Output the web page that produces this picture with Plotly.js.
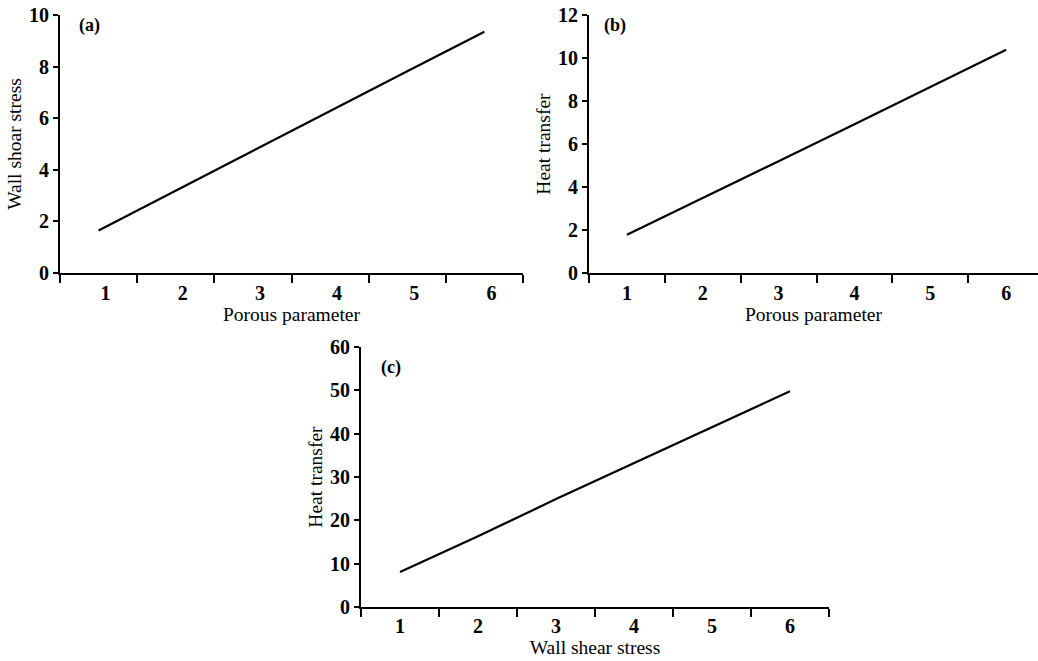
<!DOCTYPE html>
<html>
<head>
<meta charset="utf-8">
<script src="https://cdn.plot.ly/plotly-3.0.1.min.js"></script>
<style>html,body{margin:0;padding:0;background:#fff;}#chart{width:1038px;height:661px;}</style>
</head>
<body>
<div id="chart"></div>
<script>
// Data
const porousParameter = [1, 2, 3, 4, 5, 6];
const wallShearA = [1.65, 3.2, 4.75, 6.27, 7.82, 9.35];
const heatTransferB = [1.78, 3.48, 5.2, 6.92, 8.64, 10.38];
const wallShearC = [1, 2, 3, 4, 5, 6];
const heatTransferC = [8.1, 16.3, 24.9, 33.2, 41.5, 49.8];
const xTickLabels = ['1', '2', '3', '4', '5', '6'];

const W = 1038, H = 661;
const FONT = 'Liberation Serif, Times New Roman, serif';
const px = v => v / W;
const py = v => 1 - v / H;

const lineStyle = {color: '#000', width: 2.2};
const traces = [
  {x: porousParameter, y: wallShearA, type: 'scatter', mode: 'lines', line: lineStyle, xaxis: 'x', yaxis: 'y', showlegend: false, hoverinfo: 'x+y'},
  {x: porousParameter, y: heatTransferB, type: 'scatter', mode: 'lines', line: lineStyle, xaxis: 'x2', yaxis: 'y2', showlegend: false, hoverinfo: 'x+y'},
  {x: wallShearC, y: heatTransferC, type: 'scatter', mode: 'lines', line: lineStyle, xaxis: 'x3', yaxis: 'y3', showlegend: false, hoverinfo: 'x+y'}
];

function xAxis(domain, range, title, anchor, shift, standoff, labelStandoff) {
  return {
    domain: domain, range: range, anchor: anchor,
    showgrid: false, zeroline: false, showline: true, linecolor: '#000', linewidth: 2,
    tickmode: 'array', tickvals: porousParameter, ticktext: xTickLabels,
    ticks: '', ticklabelstandoff: labelStandoff, ticklabelshift: shift,
    tickfont: {family: FONT, size: 20, color: '#000', weight: 'bold'},
    minor: {tickmode: 'linear', tick0: 0.5, dtick: 1, ticks: 'outside', ticklen: 8, tickwidth: 2, tickcolor: '#000', showgrid: false},
    title: {text: title, font: {family: FONT, size: 19.5, color: '#000'}, standoff: standoff},
    automargin: false, fixedrange: true
  };
}
function yAxis(domain, range, dtick, title, anchor) {
  return {
    domain: domain, range: range, anchor: anchor,
    showgrid: false, zeroline: false, showline: true, linecolor: '#000', linewidth: 2,
    tickmode: 'linear', tick0: 0, dtick: dtick,
    ticks: 'outside', ticklen: 5, tickwidth: 2, tickcolor: '#000', ticklabelstandoff: 0,
    tickfont: {family: FONT, size: 20, color: '#000', weight: 'bold'},
    title: {text: title, font: {family: FONT, size: 19.5, color: '#000'}, standoff: 2},
    automargin: false, fixedrange: true
  };
}

const layout = {
  width: W, height: H,
  margin: {l: 0, r: 0, t: 0, b: 0},
  paper_bgcolor: '#fff', plot_bgcolor: '#fff',
  showlegend: false,
  xaxis: xAxis([px(60), px(523)], [0.5, 6.5], 'Porous parameter', 'y', 7, 0, 1),
  yaxis: yAxis([py(273), py(15)], [0, 10], 2, 'Wall shoar stress', 'x'),
  xaxis2: xAxis([px(589), 1], [0.5, 6.42], 'Porous parameter', 'y2', 0, 0, 1),
  yaxis2: yAxis([py(273), py(15)], [0, 12], 2, 'Heat transfer', 'x2'),
  xaxis3: xAxis([px(361), px(829)], [0.5, 6.5], 'Wall shear stress', 'y3', 0, 2, 0),
  yaxis3: yAxis([py(607), py(347)], [0, 60], 10, 'Heat transfer', 'x3'),
  annotations: [
    {text: '(a)', xref: 'paper', yref: 'paper', x: px(89), y: py(25), showarrow: false, xanchor: 'center', yanchor: 'middle', font: {family: FONT, size: 18, color: '#000', weight: 'bold'}},
    {text: '(b)', xref: 'paper', yref: 'paper', x: px(615), y: py(25), showarrow: false, xanchor: 'center', yanchor: 'middle', font: {family: FONT, size: 18, color: '#000', weight: 'bold'}},
    {text: '(c)', xref: 'paper', yref: 'paper', x: px(391), y: py(367), showarrow: false, xanchor: 'center', yanchor: 'middle', font: {family: FONT, size: 18, color: '#000', weight: 'bold'}}
  ]
};

Plotly.newPlot('chart', traces, layout, {displayModeBar: false, staticPlot: true});
</script>
</body>
</html>
